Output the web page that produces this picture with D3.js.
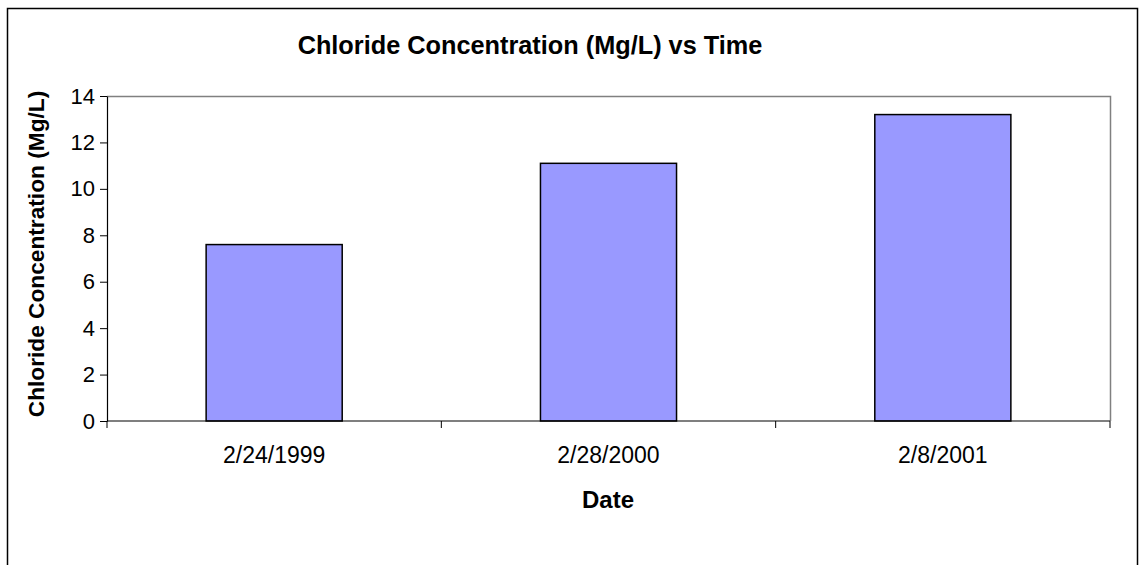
<!DOCTYPE html>
<html>
<head>
<meta charset="utf-8">
<script src="https://cdn.jsdelivr.net/npm/d3@7"></script>
<style>
  html, body { margin: 0; padding: 0; background: #fff; }
  text { font-family: "Liberation Sans", Arial, sans-serif; fill: #000; }
</style>
</head>
<body>
<div id="chart"></div>
<script>
// chart data
const dates = ['2/24/1999', '2/28/2000', '2/8/2001'];
const chloride = [7.6, 11.1, 13.2];
const yTicks = [0, 2, 4, 6, 8, 10, 12, 14];

const W = 1139, H = 565;
const plot = { left: 107, top: 96, right: 1110, bottom: 421 };

const svg = d3.select('#chart')
  .append('svg')
  .attr('width', W)
  .attr('height', H);

// outer chart border (bottom edge runs off the picture)
svg.append('rect')
  .attr('x', 7.5)
  .attr('y', 8.5)
  .attr('width', 1130)
  .attr('height', 600)
  .attr('fill', '#fff')
  .attr('stroke', '#000')
  .attr('stroke-width', 1.5);

const x = d3.scaleBand()
  .domain(dates)
  .range([plot.left, plot.right])
  .paddingInner(0.593)
  .paddingOuter(0.2965);

const y = d3.scaleLinear()
  .domain([0, 14])
  .range([plot.bottom, plot.top]);

// plot area frame: top and right in grey
svg.append('path')
  .attr('d', `M${plot.left},${plot.top + 0.5}H${plot.right + 0.5}V${plot.bottom}`)
  .attr('fill', 'none')
  .attr('stroke', '#808080')
  .attr('stroke-width', 1.5);

// Bars
svg.selectAll('.bar')
  .data(chloride)
  .enter()
  .append('rect')
  .attr('class', 'bar')
  .attr('x', (_, i) => x(dates[i]))
  .attr('y', d => y(d))
  .attr('width', x.bandwidth())
  .attr('height', d => y(0) - y(d))
  .attr('fill', '#9999ff')
  .attr('stroke', '#000')
  .attr('stroke-width', 1.5);

// Y Axis
const yAxis = svg.append('g')
  .attr('transform', `translate(${plot.left},0)`)
  .call(d3.axisLeft(y).tickValues(yTicks).tickSize(7).tickPadding(5).tickSizeOuter(0));
yAxis.select('.domain').attr('stroke', '#000').attr('stroke-width', 1.2);
yAxis.selectAll('.tick line').attr('stroke', '#000');
yAxis.selectAll('text')
  .style('font-size', '22px')
  .attr('fill', '#000');

// X Axis: ticks sit on category boundaries
const bounds = d3.range(dates.length + 1).map(i => plot.left + i * x.step());
const xAxis = svg.append('g')
  .attr('transform', `translate(0,${plot.bottom})`);
xAxis.append('line')
  .attr('x1', plot.left)
  .attr('x2', plot.right)
  .attr('stroke', '#000')
  .attr('stroke-width', 1.2);
xAxis.selectAll('.xtick')
  .data(bounds)
  .enter()
  .append('line')
  .attr('x1', d => d)
  .attr('x2', d => d)
  .attr('y1', 0)
  .attr('y2', 7)
  .attr('stroke', '#000');
xAxis.selectAll('.xlabel')
  .data(dates)
  .enter()
  .append('text')
  .text(d => d)
  .attr('x', d => x(d) + x.bandwidth() / 2)
  .attr('y', 42)
  .attr('text-anchor', 'middle')
  .style('font-size', '23px');

// Titles
svg.append('text')
  .text('Chloride Concentration (Mg/L) vs Time')
  .attr('x', 530)
  .attr('y', 54)
  .attr('text-anchor', 'middle')
  .style('font-size', '25.3px')
  .style('font-weight', 'bold');

svg.append('text')
  .text('Date')
  .attr('x', 608)
  .attr('y', 508)
  .attr('text-anchor', 'middle')
  .style('font-size', '24px')
  .style('font-weight', 'bold');

svg.append('text')
  .text('Chloride Concentration (Mg/L)')
  .attr('transform', 'translate(44,254) rotate(-90)')
  .attr('text-anchor', 'middle')
  .style('font-size', '22.7px')
  .style('font-weight', 'bold');
</script>
</body>
</html>
